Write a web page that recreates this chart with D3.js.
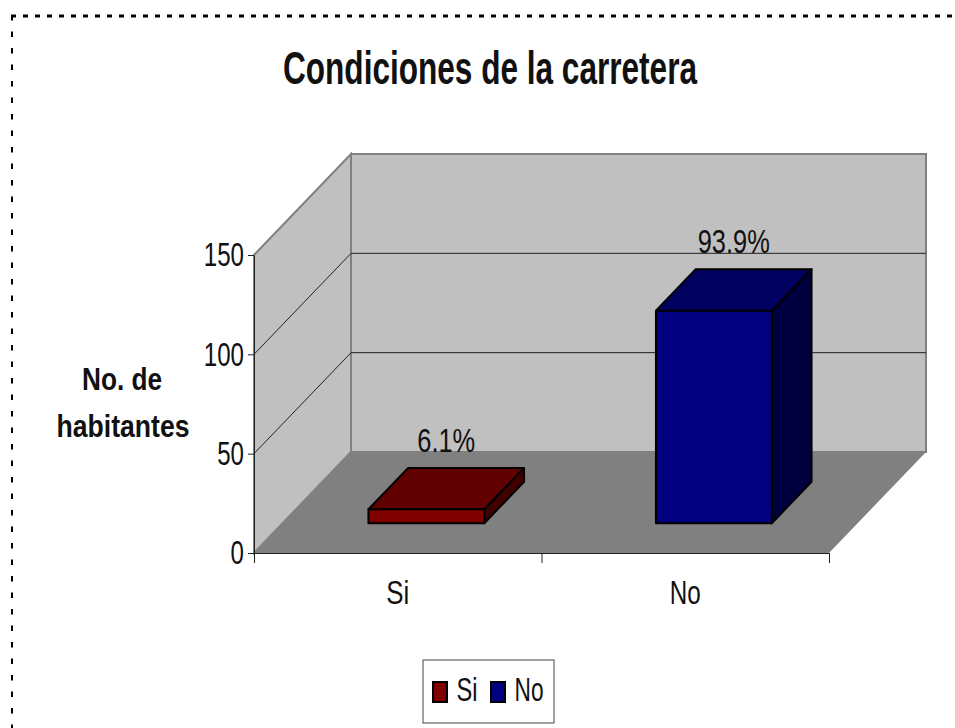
<!DOCTYPE html>
<html>
<head>
<meta charset="utf-8">
<script src="https://d3js.org/d3.v7.min.js"></script>
<style>
body {margin: 0; background: white;}
svg {display: block;}
text {font-family: "Liberation Sans Narrow", "Liberation Sans", Arial, sans-serif; fill: #111;}
</style>
</head>
<body>
<svg width="955" height="728"></svg>
<script>
var categories = ["Si", "No"];
var values = [7, 107];
var percentLabels = ["6.1%", "93.9%"];
var yTicks = [0, 50, 100, 150];
var gridTicks = [50, 100];
var frontColors = ["#800000", "#000080"];
var topColors = ["#600000", "#000060"];
var sideColors = ["#400000", "#000040"];

var svg = d3.select("svg");

// squished text, width forced to what the picture has
function label(parent, x, y, str, size, width, bold) {
  return parent.append("text")
    .attr("x", x).attr("y", y)
    .attr("text-anchor", "middle")
    .attr("font-size", size)
    .attr("font-weight", bold ? "bold" : "normal")
    .attr("textLength", width)
    .attr("lengthAdjust", "spacingAndGlyphs")
    .text(str);
}

// dashed frame, only top and left
svg.append("line").attr("x1", 11).attr("x2", 955).attr("y1", 16).attr("y2", 16)
  .attr("stroke", "black").attr("stroke-width", 3).attr("stroke-dasharray", "5 7");
svg.append("line").attr("x1", 12).attr("x2", 12).attr("y1", 15).attr("y2", 728)
  .attr("stroke", "black").attr("stroke-width", 2).attr("stroke-dasharray", "5.5 11");

label(svg, 490, 84, "Condiciones de la carretera", 46, 414, true);

var x = d3.scaleBand().domain(categories).range([254, 829]).paddingInner(0.597).paddingOuter(0.2985);
var y = d3.scaleLinear().domain([0, 150]).range([553, 255]);
var depthX = 97, depthY = -101;
var slots = d3.scaleLinear().domain([0, categories.length]).range([254, 829]);

function pts(list) {
  return list.map(function(p) { return p.join(","); }).join(" ");
}

var y0 = y(0), y150 = y(150);

// side wall
svg.append("polygon")
  .attr("points", pts([[254, y150], [254 + depthX, y150 + depthY], [254 + depthX, y0 + depthY], [254, y0]]))
  .attr("fill", "#c0c0c0").attr("stroke", "#808080").attr("stroke-width", 2);
// back wall
svg.append("rect")
  .attr("x", 254 + depthX).attr("y", y150 + depthY)
  .attr("width", 575).attr("height", y0 - y150)
  .attr("fill", "#c0c0c0").attr("stroke", "#808080").attr("stroke-width", 2);
// floor
svg.append("polygon")
  .attr("points", pts([[254, y0], [254 + depthX, y0 + depthY], [829 + depthX, y0 + depthY], [829, y0]]))
  .attr("fill", "#808080");

// grid on both walls
gridTicks.forEach(function(t) {
  svg.append("polyline")
    .attr("points", pts([[254, y(t)], [254 + depthX, y(t) + depthY], [829 + depthX, y(t) + depthY]]))
    .attr("fill", "none").attr("stroke", "#222").attr("stroke-width", 1);
});

// bars
var barStart = 0.295, barDepth = 0.41;
categories.forEach(function(c, i) {
  var left = x(c) + depthX * barStart;
  var right = left + x.bandwidth();
  var bottom = y0 + depthY * barStart;
  var top = y(values[i]) + depthY * barStart;
  var dx = depthX * barDepth, dy = depthY * barDepth;
  var g = svg.append("g").attr("stroke", "black").attr("stroke-width", 2).attr("stroke-linejoin", "round");
  g.append("polygon").attr("points", pts([[right, top], [right + dx, top + dy], [right + dx, bottom + dy], [right, bottom]]))
    .attr("fill", sideColors[i]);
  g.append("polygon").attr("points", pts([[left, top], [left + dx, top + dy], [right + dx, top + dy], [right, top]]))
    .attr("fill", topColors[i]);
  g.append("rect").attr("x", left).attr("y", top).attr("width", x.bandwidth()).attr("height", bottom - top)
    .attr("fill", frontColors[i]);
  label(svg, (left + right + dx) / 2, top + dy - 16, percentLabels[i], 34, i == 0 ? 58 : 72, false);
});

// axes
var yAxis = svg.append("g").attr("transform", "translate(254,0)")
  .call(d3.axisLeft(y).tickValues(yTicks).tickSize(6).tickSizeOuter(0).tickPadding(4).tickFormat(d3.format("d")));
yAxis.selectAll("text")
  .attr("font-family", "inherit").attr("font-size", 34)
  .attr("textLength", function(d) { return String(d).length * 13.4; })
  .attr("lengthAdjust", "spacingAndGlyphs");
yAxis.selectAll("line, path").attr("stroke", "#222");

var xAxis = svg.append("g").attr("transform", "translate(0," + y0 + ")")
  .call(d3.axisBottom(slots).tickValues([0, 1, 2]).tickSize(10).tickSizeOuter(0).tickFormat(""));
xAxis.selectAll("line, path").attr("stroke", "#222");

var catWidths = [23, 31];
categories.forEach(function(c, i) {
  label(svg, x(c) + x.bandwidth() / 2, 604, c, 34, catWidths[i], false);
});

// y title
label(svg, 122, 390, "No. de", 32, 80, true);
label(svg, 123, 437, "habitantes", 32, 133, true);

// legend
svg.append("rect").attr("x", 423).attr("y", 660).attr("width", 131).attr("height", 63)
  .attr("fill", "white").attr("stroke", "#444").attr("stroke-width", 1);
var swatchX = [433, 491], legendTextX = [467, 529];
categories.forEach(function(c, i) {
  svg.append("rect").attr("x", swatchX[i]).attr("y", 682).attr("width", 14).attr("height", 20)
    .attr("fill", frontColors[i]).attr("stroke", "black").attr("stroke-width", 2);
  label(svg, legendTextX[i], 701, c, 34, catWidths[i] - 2, false);
});
</script>
</body>
</html>
